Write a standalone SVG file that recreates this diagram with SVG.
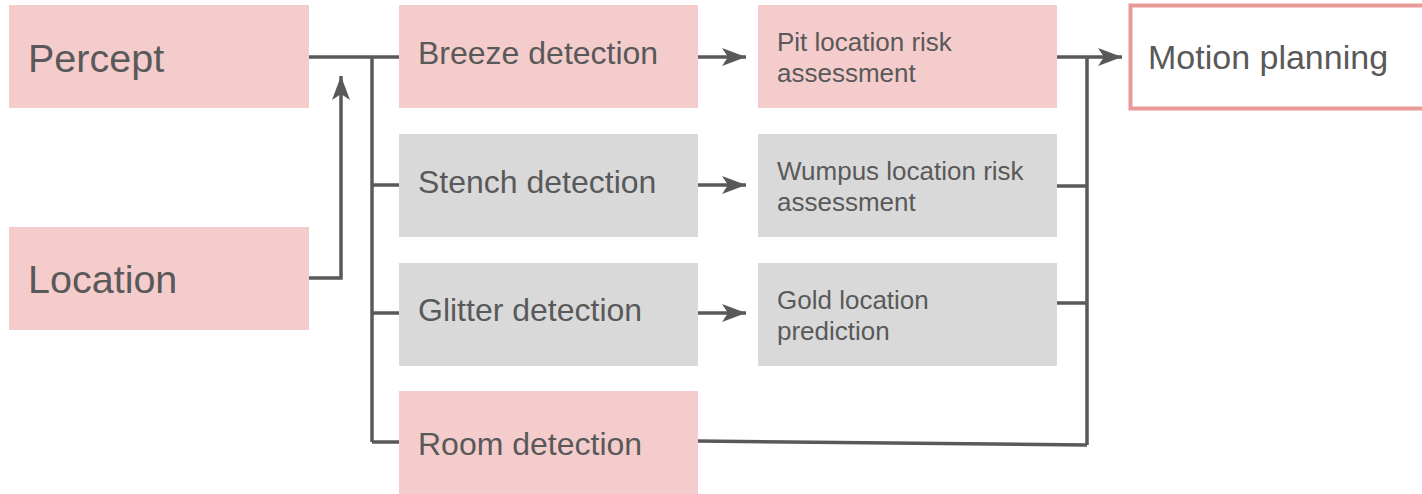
<svg xmlns="http://www.w3.org/2000/svg" width="1422" height="494" viewBox="0 0 1422 494">
  <style>
    .pink { fill: #f4cccc; }
    .gray { fill: #d9d9d9; }
    .out { fill: #ffffff; stroke: #ea9999; stroke-width: 4; }
    text { font-family: "Liberation Sans", Arial, sans-serif; fill: #595959; }
    .big { font-size: 39.5px; }
    .mid { font-size: 32px; }
    .sm { font-size: 26px; }
    .wire { fill: none; stroke: #595959; stroke-width: 3.5; }
  </style>
  <defs>
    <marker id="arrow" markerUnits="userSpaceOnUse" markerWidth="26" markerHeight="20" refX="24" refY="10" orient="auto">
      <path d="M0,1 L24,10 L0,19 L6,10 Z" fill="#595959"/>
    </marker>
  </defs>

  <g id="connectors">
    <!-- Percept feeds the detector bus -->
    <path class="wire" d="M309,57 H399"/>
    <path class="wire" d="M372,57 V442"/>
    <path class="wire" d="M372,185 H399"/>
    <path class="wire" d="M372,313 H399"/>
    <path class="wire" d="M372,442 H399"/>
    <!-- Location joins the percept line -->
    <path class="wire" d="M309,278 H341 V76" marker-end="url(#arrow)"/>
    <!-- detectors to assessments -->
    <path class="wire" d="M698,57 H746" marker-end="url(#arrow)"/>
    <path class="wire" d="M698,185 H746" marker-end="url(#arrow)"/>
    <path class="wire" d="M698,313 H746" marker-end="url(#arrow)"/>
    <!-- assessments collect into motion planning -->
    <path class="wire" d="M1057,57 H1122" marker-end="url(#arrow)"/>
    <path class="wire" d="M1087,57 V445"/>
    <path class="wire" d="M1057,186 H1087"/>
    <path class="wire" d="M1057,303 H1087"/>
    <path class="wire" d="M698,441 L1087,445"/>
  </g>

  <g id="percept">
    <rect class="pink" x="9" y="5" width="300" height="103"/>
    <text class="big" x="28" y="72">Percept</text>
  </g>
  <g id="location">
    <rect class="pink" x="9" y="227" width="300" height="103"/>
    <text class="big" x="28" y="293">Location</text>
  </g>

  <g id="breeze-detection">
    <rect class="pink" x="399" y="5" width="299" height="103"/>
    <text class="mid" x="418" y="64">Breeze detection</text>
  </g>
  <g id="stench-detection">
    <rect class="gray" x="399" y="134" width="299" height="103"/>
    <text class="mid" x="418" y="193">Stench detection</text>
  </g>
  <g id="glitter-detection">
    <rect class="gray" x="399" y="263" width="299" height="103"/>
    <text class="mid" x="418" y="321">Glitter detection</text>
  </g>
  <g id="room-detection">
    <rect class="pink" x="399" y="391" width="299" height="103"/>
    <text class="mid" x="418" y="455">Room detection</text>
  </g>

  <g id="pit-risk">
    <rect class="pink" x="758" y="5" width="299" height="103"/>
    <text class="sm" x="777" y="51">Pit location risk</text>
    <text class="sm" x="777" y="82">assessment</text>
  </g>
  <g id="wumpus-risk">
    <rect class="gray" x="758" y="134" width="299" height="103"/>
    <text class="sm" x="777" y="180">Wumpus location risk</text>
    <text class="sm" x="777" y="211">assessment</text>
  </g>
  <g id="gold-prediction">
    <rect class="gray" x="758" y="263" width="299" height="103"/>
    <text class="sm" x="777" y="309">Gold location</text>
    <text class="sm" x="777" y="340">prediction</text>
  </g>

  <g id="motion-planning">
    <rect class="out" x="1130.5" y="5.5" width="300" height="103"/>
    <text class="mid" x="1148" y="69" style="font-size:34px">Motion planning</text>
  </g>
</svg>
